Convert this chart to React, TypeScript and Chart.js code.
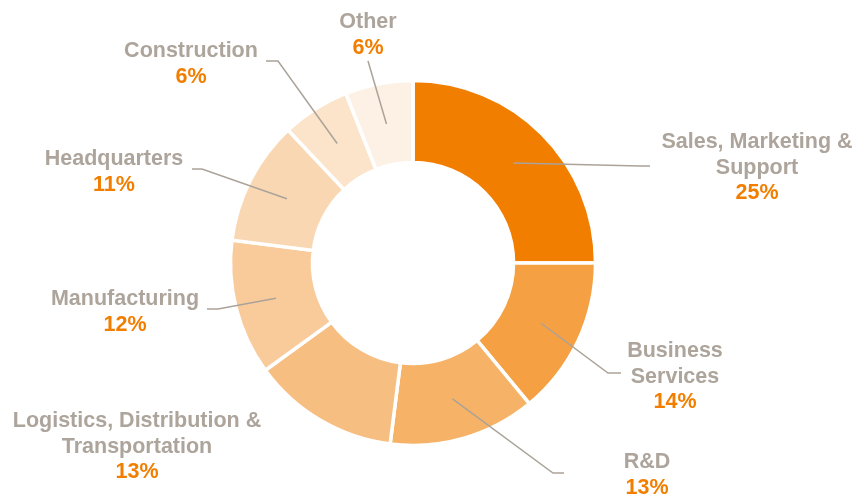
import React, { useEffect, useRef } from "react";
import { Chart, registerables } from "chart.js";

Chart.register(...registerables);

const categories = [
  ["Sales, Marketing &", "Support"],
  ["Business", "Services"],
  ["R&D"],
  ["Logistics, Distribution &", "Transportation"],
  ["Manufacturing"],
  ["Headquarters"],
  ["Construction"],
  ["Other"],
];
const shares = [25, 14, 13, 13, 12, 11, 6, 6];
const sliceColors = [
  "#F27E00",
  "#F5A043",
  "#F6B266",
  "#F7BE81",
  "#F9CB9B",
  "#FAD7B3",
  "#FCE4CB",
  "#FDF1E5",
];

// label layout, relative to the doughnut centre (elbow of leader line, tail, text centre & first baseline)
const labelLayout = [
  { ex: 227, ey: -97, tail: 10, tx: 344, ty: -115, line: true },
  { ex: 195, ey: 110, tail: 13, tx: 262, ty: 94, line: true },
  { ex: 140, ey: 210, tail: 11, tx: 234, ty: 205, line: true },
  { ex: 0, ey: 0, tail: 0, tx: -276, ty: 164, line: false },
  { ex: -195, ey: 46, tail: -11, tx: -288, ty: 42, line: true },
  { ex: -211, ey: -94, tail: -10, tx: -299, ty: -98, line: true },
  { ex: -135, ey: -202, tail: -12, tx: -222, ty: -206, line: true },
  { ex: -45, ey: -202, tail: 0, tx: -45, ty: -235, line: true },
];

const FONT = "'Liberation Sans', Arial, Helvetica, sans-serif";

const labelPlugin = {
  id: "sliceLabels",
  afterDatasetsDraw(chart: any) {
    const ctx = chart.ctx;
    const meta = chart.getDatasetMeta(0);
    const ds = chart.data.datasets[0];
    meta.data.forEach((arc: any, i: number) => {
      const { x, y, startAngle, endAngle, innerRadius, outerRadius } = arc.getProps(
        ["x", "y", "startAngle", "endAngle", "innerRadius", "outerRadius"],
        true
      );
      const mid = (startAngle + endAngle) / 2;
      const r = (innerRadius + outerRadius) / 2;
      const sx = x + Math.cos(mid) * r;
      const sy = y + Math.sin(mid) * r;
      const L = labelLayout[i];
      ctx.save();
      if (L.line) {
        ctx.strokeStyle = "#ABA399";
        ctx.lineWidth = 1.5;
        ctx.beginPath();
        ctx.moveTo(sx, sy);
        ctx.lineTo(x + L.ex, y + L.ey);
        if (L.tail !== 0) ctx.lineTo(x + L.ex + L.tail, y + L.ey);
        ctx.stroke();
      }
      ctx.textAlign = "center";
      ctx.textBaseline = "alphabetic";
      ctx.font = `bold 21.5px ${FONT}`;
      const lines = chart.data.labels[i] as string[];
      let by = y + L.ty;
      ctx.fillStyle = "#ADA49B";
      lines.forEach((t: string) => {
        ctx.fillText(t, x + L.tx, by);
        by += 25.5;
      });
      ctx.fillStyle = "#F27E00";
      ctx.fillText(`${ds.data[i]}%`, x + L.tx, by);
      ctx.restore();
    });
  },
};

export default function App() {
  const ref = useRef<HTMLCanvasElement>(null);
  useEffect(() => {
    const chart = new Chart(ref.current as HTMLCanvasElement, {
      type: "doughnut",
      data: {
        labels: categories as any,
        datasets: [
          {
            data: shares,
            backgroundColor: sliceColors,
            borderColor: "#ffffff",
            borderWidth: 3.5,
            borderJoinStyle: "miter",
          },
        ],
      },
      options: {
        animation: false,
        responsive: true,
        maintainAspectRatio: false,
        radius: 182.5,
        cutout: "55.1%",
        layout: { padding: { left: 0, right: 33, top: 31, bottom: 0 } },
        plugins: { legend: { display: false }, tooltip: { enabled: false } },
      },
      plugins: [labelPlugin],
    });
    return () => chart.destroy();
  }, []);
  return (
    <div style={{ position: "fixed", left: 0, top: 0, width: 859, height: 495, background: "#fff" }}>
      <canvas ref={ref} />
    </div>
  );
}
